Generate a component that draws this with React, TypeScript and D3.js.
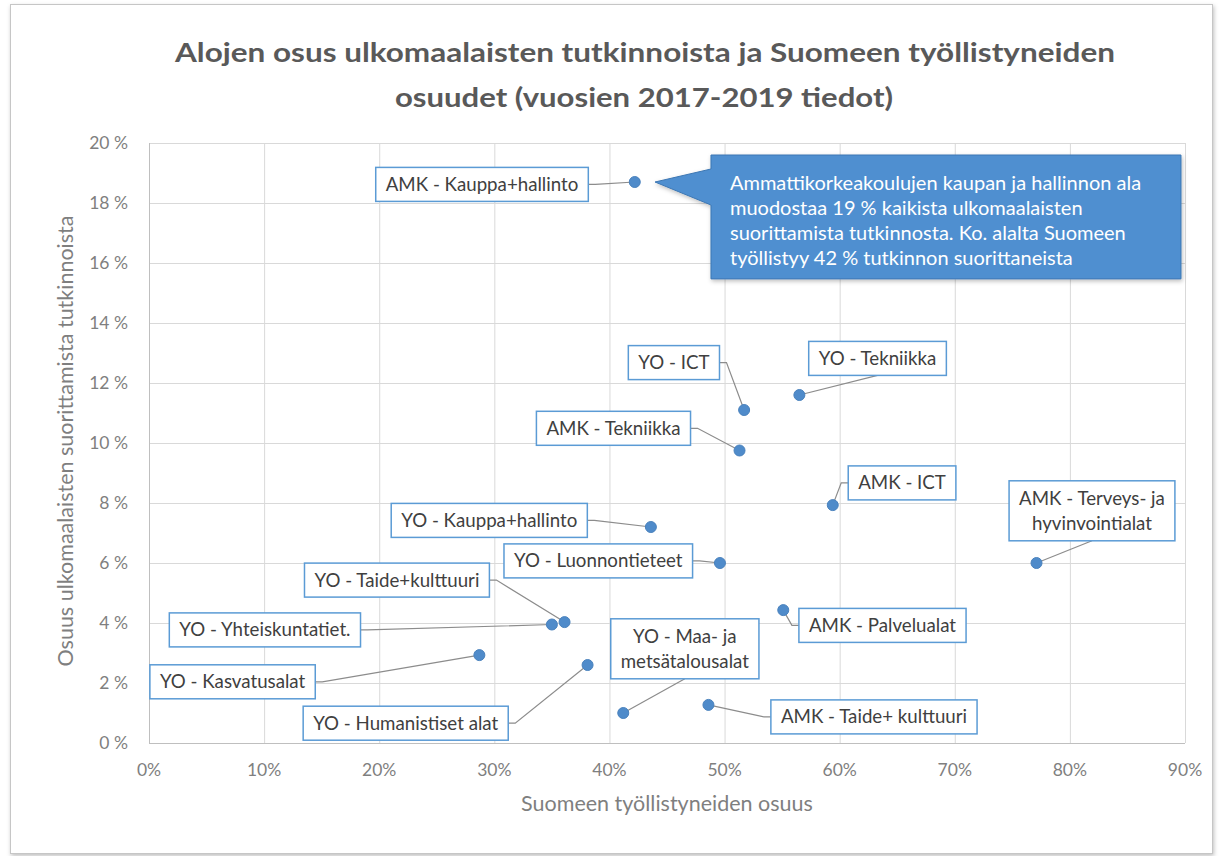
import React, { useEffect, useRef } from 'react';
import * as d3 from 'd3';

const titleLines = [
  'Alojen osus ulkomaalaisten tutkinnoista ja Suomeen työllistyneiden',
  'osuudet (vuosien 2017-2019 tiedot)',
];
const xAxisTitle = 'Suomeen työllistyneiden osuus';
const yAxisTitle = 'Osuus ulkomaalaisten suorittamista tutkinnoista';

const xTicks = [0, 10, 20, 30, 40, 50, 60, 70, 80, 90];
const yTicks = [0, 2, 4, 6, 8, 10, 12, 14, 16, 18, 20];

const names = [
  'AMK - Kauppa+hallinto',
  'YO - ICT',
  'YO - Tekniikka',
  'AMK - Tekniikka',
  'AMK - ICT',
  'YO - Kauppa+hallinto',
  'AMK - Terveys- ja hyvinvointialat',
  'YO - Luonnontieteet',
  'YO - Taide+kulttuuri',
  'YO - Yhteiskuntatiet.',
  'AMK - Palvelualat',
  'YO - Maa- ja metsätalousalat',
  'YO - Kasvatusalat',
  'YO - Humanistiset alat',
  'AMK - Taide+ kulttuuri',
];
const labelLines = [
  ['AMK - Kauppa+hallinto'],
  ['YO - ICT'],
  ['YO - Tekniikka'],
  ['AMK - Tekniikka'],
  ['AMK - ICT'],
  ['YO - Kauppa+hallinto'],
  ['AMK - Terveys- ja', 'hyvinvointialat'],
  ['YO - Luonnontieteet'],
  ['YO - Taide+kulttuuri'],
  ['YO - Yhteiskuntatiet.'],
  ['AMK - Palvelualat'],
  ['YO - Maa- ja', 'metsätalousalat'],
  ['YO - Kasvatusalat'],
  ['YO - Humanistiset alat'],
  ['AMK - Taide+ kulttuuri'],
];
// employed share in Finland (%)
const xValues = [42.2, 51.7, 56.5, 51.3, 59.4, 43.6, 77.1, 49.6, 36.1, 35.0, 55.1, 41.2, 28.7, 38.1, 48.6];
// share of degrees by foreigners (%)
const yValues = [18.7, 11.1, 11.6, 9.75, 7.93, 7.2, 6.0, 6.0, 4.03, 3.95, 4.43, 1.0, 2.93, 2.6, 1.27];

// label anchor (box centre) in data units
const labelX = [28.93, 45.6, 63.29, 40.35, 65.42, 29.56, 81.92, 39.03, 21.54, 10.07, 63.72, 46.55, 7.26, 22.3, 62.98];
const labelY = [18.62, 12.68, 12.82, 10.49, 8.67, 7.42, 7.74, 6.07, 5.43, 3.77, 3.92, 3.14, 2.04, 0.66, 0.87];
const labelSide = ['right', 'right', 'bottom', 'right', 'left', 'right', 'bottom', 'right', 'right', 'right', 'left', 'bottom', 'right', 'right', 'left'];

const calloutLines = [
  'Ammattikorkeakoulujen kaupan ja hallinnon ala',
  'muodostaa 19 % kaikista ulkomaalaisten',
  'suorittamista tutkinnosta. Ko. alalta Suomeen',
  'työllistyy 42 % tutkinnon suorittaneista',
];
// callout box in data units: [x0, x1, yTop, yBottom], tip [x, y]
const calloutBox = [48.82, 89.65, 19.6, 15.47];
const calloutTip = [43.96, 18.7];

const FONT = 'Lato, "Open Sans", sans-serif';

export default function App() {
  const ref = useRef<SVGSVGElement>(null);

  useEffect(() => {
    const svg = d3.select(ref.current);
    svg.selectAll('*').remove();
    const W = 1222, H = 856;

    const defs = svg.append('defs');
    const f = defs.append('filter').attr('id', 'shadow').attr('x', '-5%').attr('y', '-5%').attr('width', '110%').attr('height', '110%');
    f.append('feDropShadow').attr('dx', 1).attr('dy', 2).attr('stdDeviation', 2).attr('flood-color', '#000').attr('flood-opacity', 0.25);

    svg.append('rect').attr('width', W).attr('height', H).attr('fill', '#ffffff');
    svg.append('rect').attr('x', 10.5).attr('y', 4.5).attr('width', 1202).attr('height', 849)
      .attr('fill', '#fff').attr('stroke', '#c6c6c6').attr('stroke-width', 1).attr('filter', 'url(#shadow)');

    const x = d3.scaleLinear().domain([0, 90]).range([149, 1185]);
    const y = d3.scaleLinear().domain([0, 20]).range([743, 143]);

    // title
    svg.append('text').attr('x', 645).attr('y', 62).attr('text-anchor', 'middle')
      .attr('font-family', FONT).attr('font-weight', 700).attr('font-size', 27).attr('fill', '#595959')
      .attr('textLength', 940).attr('lengthAdjust', 'spacingAndGlyphs').text(titleLines[0]);
    svg.append('text').attr('x', 644).attr('y', 107).attr('text-anchor', 'middle')
      .attr('font-family', FONT).attr('font-weight', 700).attr('font-size', 27).attr('fill', '#595959')
      .attr('textLength', 498).attr('lengthAdjust', 'spacingAndGlyphs').text(titleLines[1]);

    // gridlines
    const g = svg.append('g');
    g.selectAll('line.h').data(yTicks).join('line')
      .attr('x1', x(0)).attr('x2', x(90)).attr('y1', (d) => y(d) + 0.5).attr('y2', (d) => y(d) + 0.5)
      .attr('stroke', (d) => (d === 0 ? '#bfbfbf' : '#d9d9d9')).attr('stroke-width', 1);
    g.selectAll('line.v').data(xTicks).join('line')
      .attr('x1', (d) => x(d) + 0.5).attr('x2', (d) => x(d) + 0.5).attr('y1', y(0)).attr('y2', y(20))
      .attr('stroke', (d) => (d === 0 ? '#bfbfbf' : '#d9d9d9')).attr('stroke-width', 1);

    // tick labels
    svg.append('g').selectAll('text').data(yTicks).join('text')
      .attr('x', 128).attr('y', (d) => y(d)).attr('dy', '0.35em').attr('text-anchor', 'end')
      .attr('font-family', FONT).attr('font-size', 17.5).attr('fill', '#7f7f7f')
      .text((d) => `${d} %`);
    svg.append('g').selectAll('text').data(xTicks).join('text')
      .attr('x', (d) => x(d)).attr('y', 770).attr('dy', '0.35em').attr('text-anchor', 'middle')
      .attr('font-family', FONT).attr('font-size', 17.5).attr('fill', '#7f7f7f')
      .text((d) => `${d}%`);

    // axis titles
    svg.append('text').attr('x', 667).attr('y', 803).attr('dy', '0.35em').attr('text-anchor', 'middle')
      .attr('font-family', FONT).attr('font-size', 21.5).attr('fill', '#7f7f7f').text(xAxisTitle);
    svg.append('text').attr('transform', 'translate(65,441) rotate(-90)').attr('dy', '0.35em').attr('text-anchor', 'middle')
      .attr('font-family', FONT).attr('font-size', 21.5).attr('fill', '#7f7f7f').text(yAxisTitle);

    // leaders + labels
    const lab = svg.append('g');
    const leaders = lab.append('g');
    const boxes = lab.append('g');
    names.forEach((_, i) => {
      const lines = labelLines[i];
      const cx = x(labelX[i]);
      const cy = y(labelY[i]);
      const lh = 25;
      const tg = boxes.append('g');
      const rect = tg.append('rect');
      const texts = lines.map((ln, j) =>
        tg.append('text').attr('x', cx).attr('y', cy + (j - (lines.length - 1) / 2) * lh).attr('dy', '0.35em')
          .attr('text-anchor', 'middle').attr('font-family', FONT).attr('font-size', 18.7).attr('fill', '#404040').text(ln)
      );
      let tw = 0;
      texts.forEach((t) => { tw = Math.max(tw, (t.node() as SVGTextElement).getComputedTextLength()); });
      const bw = tw + 20;
      const bh = lines.length === 1 ? 34 : 60;
      const bx = cx - bw / 2, by = cy - bh / 2;
      rect.attr('x', bx).attr('y', by).attr('width', bw).attr('height', bh)
        .attr('fill', '#ffffff').attr('stroke', '#5b9bd5').attr('stroke-width', 1.5);
      const px = x(xValues[i]), py = y(yValues[i]);
      let pts: [number, number][];
      if (labelSide[i] === 'right') pts = [[bx + bw, cy], [bx + bw + 7, cy], [px, py]];
      else if (labelSide[i] === 'left') pts = [[bx, cy], [bx - 7, cy], [px, py]];
      else pts = [[cx, by + bh], [px, py]];
      leaders.append('path').attr('d', d3.line()(pts)).attr('fill', 'none').attr('stroke', '#8c8c8c').attr('stroke-width', 1.2);
    });

    // points
    svg.append('g').selectAll('circle').data(names).join('circle')
      .attr('cx', (_, i) => x(xValues[i])).attr('cy', (_, i) => y(yValues[i])).attr('r', 5.5)
      .attr('fill', '#4f8bca').attr('stroke', '#4a82bd').attr('stroke-width', 1);

    // callout
    const bx0 = x(calloutBox[0]), bx1 = x(calloutBox[1]), by0 = y(calloutBox[2]), by1 = y(calloutBox[3]);
    const tx = x(calloutTip[0]), ty = y(calloutTip[1]);
    const cp = d3.path();
    cp.moveTo(bx0, by0);
    cp.lineTo(bx1, by0);
    cp.lineTo(bx1, by1);
    cp.lineTo(bx0, by1);
    cp.lineTo(bx0, by0 + 50);
    cp.lineTo(tx, ty);
    cp.lineTo(bx0, by0 + 14);
    cp.closePath();
    svg.append('path').attr('d', cp.toString()).attr('fill', '#4f8fd0').attr('stroke', '#3d77b3').attr('stroke-width', 1)
      .attr('filter', 'url(#shadow)');
    svg.append('g').selectAll('text').data(calloutLines).join('text')
      .attr('x', bx0 + 19).attr('y', (_, i) => by0 + 28 + i * 25).attr('dy', '0.35em')
      .attr('font-family', FONT).attr('font-size', 20).attr('fill', '#ffffff').text((d) => d);
  }, []);

  return (
    <svg ref={ref} width={1222} height={856} style={{ position: 'absolute', left: 0, top: 0 }} />
  );
}
